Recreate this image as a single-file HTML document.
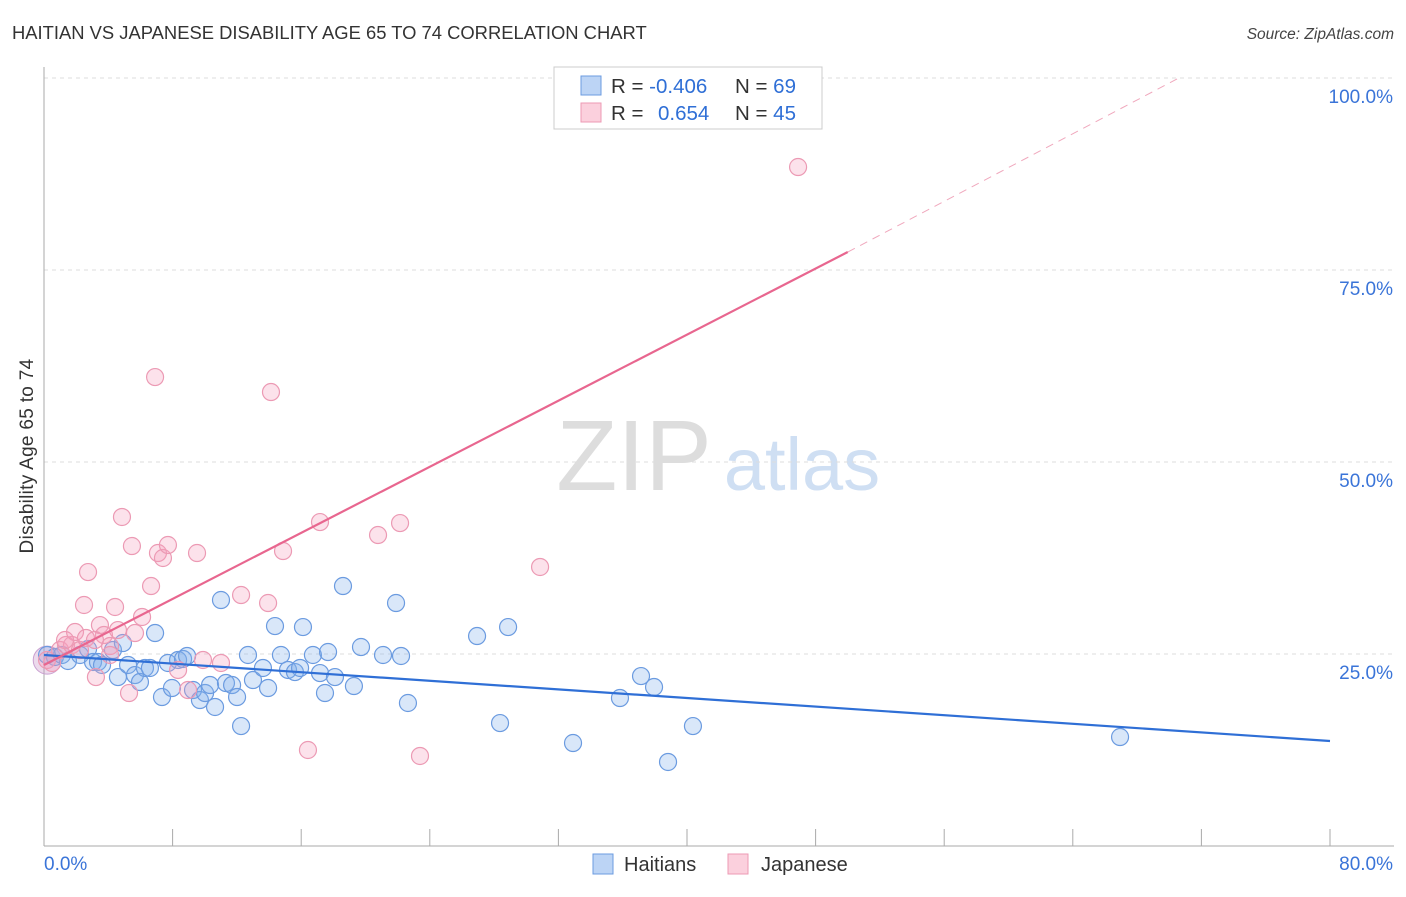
<!DOCTYPE html>
<html><head><meta charset="utf-8"><style>
body{margin:0;background:#fff;font-family:"Liberation Sans",sans-serif;}
svg text{font-family:"Liberation Sans",sans-serif;}
</style></head><body>
<svg id="chart" width="1406" height="892" viewBox="0 0 1406 892" xmlns="http://www.w3.org/2000/svg">
<text x="12" y="39" font-size="18.4" fill="#333">HAITIAN VS JAPANESE DISABILITY AGE 65 TO 74 CORRELATION CHART</text>
<text x="1394" y="39" font-size="15.5" fill="#444" text-anchor="end" font-style="italic">Source: ZipAtlas.com</text>
<g>
<text x="634" y="490" font-size="100" fill="#ddd" font-family="Liberation Serif" text-anchor="middle">ZIP</text>
<text x="802" y="490" font-size="74" fill="#cfdff3" text-anchor="middle">atlas</text>
</g>
<g id="grid"></g>
<g id="axes"></g>
<g id="points"></g>
<g id="trends"></g>
<text transform="translate(33,456) rotate(-90)" font-size="19" fill="#333" text-anchor="middle" letter-spacing="0.3">Disability Age 65 to 74</text>
<g>
<rect x="554" y="67" width="268" height="62" fill="#fff" stroke="#ccc"/>
<rect x="581" y="76" width="20" height="19" fill="#bcd4f5" stroke="#6b9be0"/>
<rect x="581" y="103" width="20" height="19" fill="#fbd0dd" stroke="#ec9ab4"/>
<text x="611" y="93" font-size="20.5" fill="#333">R = <tspan fill="#2f6fd6">-0.406</tspan></text>
<text x="735" y="93" font-size="20.5" fill="#333">N = <tspan fill="#2f6fd6">69</tspan></text>
<text x="611" y="120" font-size="20.5" fill="#333">R = <tspan fill="#2f6fd6" x="658">0.654</tspan></text>
<text x="735" y="120" font-size="20.5" fill="#333">N = <tspan fill="#2f6fd6">45</tspan></text>
</g>
<g>
<rect x="593" y="854" width="20" height="20" fill="#bcd4f5" stroke="#6b9be0"/>
<text x="624" y="871" font-size="20" fill="#333">Haitians</text>
<rect x="728" y="854" width="20" height="20" fill="#fbd0dd" stroke="#ec9ab4"/>
<text x="761" y="871" font-size="20" fill="#333">Japanese</text>
</g>
</svg>
<script>
const blueX=[0.19,0.68,1.12,1.49,2.24,2.74,3.05,3.36,3.61,4.29,4.60,4.91,5.23,5.66,5.97,6.28,6.59,6.91,7.34,7.71,7.96,8.34,8.65,8.90,9.27,9.70,10.02,10.33,10.64,11.01,11.32,11.70,12.01,12.26,12.69,13.00,13.62,13.94,14.37,14.74,15.18,15.61,15.93,16.11,16.73,17.17,17.48,17.67,18.10,18.60,19.28,19.72,21.09,21.90,22.21,22.64,26.94,28.37,28.87,32.91,35.83,37.14,37.95,38.82,40.37,66.94];
const blueY=[24.87,24.61,24.87,24.09,24.87,25.65,23.96,23.96,23.57,25.52,22.00,26.43,23.57,22.26,21.35,23.18,23.18,27.73,19.40,23.83,20.57,24.22,24.35,24.74,20.31,19.01,19.92,20.96,18.10,32.03,21.22,20.96,19.40,15.62,24.87,21.61,23.18,20.57,28.64,24.87,22.92,22.65,23.18,28.51,24.87,22.52,19.92,25.26,22.00,33.85,20.83,25.91,24.87,31.64,24.74,18.62,27.34,16.01,28.51,13.41,19.27,22.13,20.70,10.94,15.62,14.19];
const pinkX=[0.19,0.50,1.00,1.37,1.74,2.24,2.49,2.74,3.23,3.48,3.73,4.11,4.42,4.60,4.85,5.29,5.47,5.66,6.10,6.66,6.91,7.09,7.40,7.71,8.34,8.96,9.52,9.89,11.01,12.26,13.94,14.12,14.87,16.42,17.17,20.78,22.15,23.39,30.86,46.91,4.11,1.93,2.61,1.31,3.17];
const pinkY=[24.22,23.83,25.52,26.17,26.17,25.52,31.38,35.67,22.00,28.77,27.47,26.04,31.12,28.12,42.84,19.92,39.06,27.73,29.82,33.85,61.06,38.15,37.50,39.19,22.92,20.31,38.15,24.22,23.83,32.68,31.64,59.11,38.41,12.50,42.18,40.49,42.05,11.72,36.33,88.41,24.87,27.86,27.08,26.82,26.82];
const yTicks=[25,50,75,100];
const yTickLabels=["25.0%","50.0%","75.0%","100.0%"];
const xTicks=[0,8,16,24,32,40,48,56,64,72,80];
const blueTrend=[[0,24.87],[80,13.67]];
const pinkTrendSolid=[[0,23.57],[50,77.34]];
const pinkTrendDash=[[50,77.34],[70.6,100]];
const NS="http://www.w3.org/2000/svg";
const X=v=>44+v/80*1286, Y=v=>846-v*7.68;
function mk(t,a,p){const e=document.createElementNS(NS,t);for(const k in a)e.setAttribute(k,a[k]);p.appendChild(e);return e;}
const grid=document.getElementById('grid'),axes=document.getElementById('axes'),pts=document.getElementById('points'),tr=document.getElementById('trends');
yTicks.forEach((v,i)=>{
 const l=mk('line',{x1:44,x2:1394,y1:Y(v),y2:Y(v),stroke:'#ddd','stroke-dasharray':'4,4'},grid);
 
 
 const t=mk('text',{x:1393,y:Y(v)+25,'font-size':19,fill:'#3a74d8','text-anchor':'end'},axes);
 t.textContent=yTickLabels[i];
 
 
});
const ya=mk('line',{x1:44,x2:44,y1:67,y2:846,stroke:'#aaa'},axes);


const xa=mk('line',{x1:44,x2:1394,y1:846,y2:846,stroke:'#aaa'},axes);


xTicks.forEach(v=>{const l=mk('line',{x1:X(v),x2:X(v),y1:829,y2:846,stroke:'#aaa'},axes);
 
 });
const x0=mk('text',{x:44,y:870,'font-size':19,fill:'#3a74d8'},axes);x0.textContent='0.0%';


const x1=mk('text',{x:1393,y:870,'font-size':19,fill:'#3a74d8','text-anchor':'end'},axes);x1.textContent='80.0%';


const big=mk('circle',{cx:X(0.2),cy:Y(24.2),r:14,fill:'rgba(200,150,200,0.35)',stroke:'#c9a0d0'},pts);


blueX.forEach((v,i)=>{const c=mk('circle',{cx:X(v),cy:Y(blueY[i]),r:8.5,fill:'rgba(130,175,235,0.3)',stroke:'#6b9be0','stroke-width':1.2},pts);
 
 });
pinkX.forEach((v,i)=>{const c=mk('circle',{cx:X(v),cy:Y(pinkY[i]),r:8.5,fill:'rgba(245,160,190,0.3)',stroke:'#ec9ab4','stroke-width':1.2},pts);
 
 });
const bl=mk('line',{x1:X(blueTrend[0][0]),y1:Y(blueTrend[0][1]),x2:X(blueTrend[1][0]),y2:Y(blueTrend[1][1]),stroke:'#2f6fd6','stroke-width':2.2},tr);


const pl=mk('line',{x1:X(pinkTrendSolid[0][0]),y1:Y(pinkTrendSolid[0][1]),x2:X(pinkTrendSolid[1][0]),y2:Y(pinkTrendSolid[1][1]),stroke:'#e8668f','stroke-width':2.2},tr);


const pd=mk('line',{x1:X(pinkTrendDash[0][0]),y1:Y(pinkTrendDash[0][1]),x2:X(pinkTrendDash[1][0]),y2:Y(pinkTrendDash[1][1]),stroke:'#f0a8bd','stroke-width':1,'stroke-dasharray':'8,6'},tr);


</script>
</body></html>
